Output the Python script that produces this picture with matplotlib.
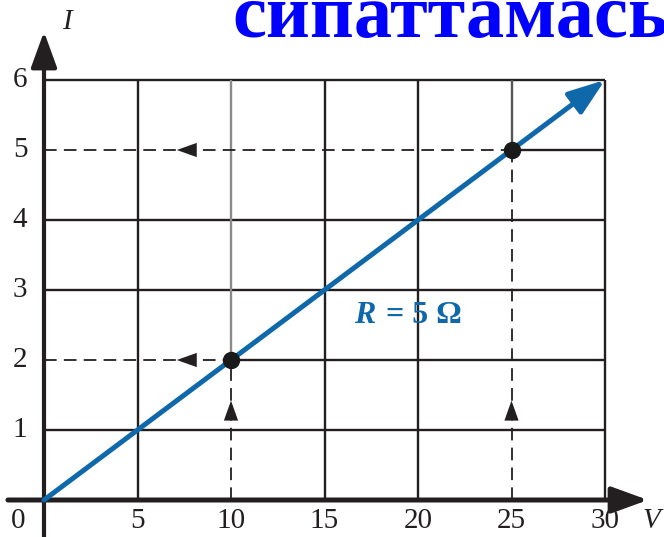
import matplotlib.pyplot as plt

# данные графика
voltage = [0, 30]
current = [0, 6]
point_v = [10, 25]
point_i = [2, 5]
x_ticks = [5, 10, 15, 20, 25, 30]
y_ticks = [1, 2, 3, 4, 5, 6]
title_text = "сипаттамасы"
label_r = "R"
label_value = " = 5 Ω"

DARK = "#231f20"
BLUE = "#0f68aa"
GRAY = "#8a8a8a"

fig = plt.figure(figsize=(6.64, 5.37), dpi=100)
ax = fig.add_axes([0, 0, 1, 1])
ax.set_xlim(-44 / 18.7, 620 / 18.7)
ax.set_ylim(-37 / 70, 500 / 70)
ax.axis("off")

grid_kw = dict(color=DARK, lw=1.7, solid_capstyle="butt", zorder=1)
# горизонтальные линии сетки
for y in y_ticks:
    x_start = 0
    for pv, pi in zip(point_v, point_i):
        if pi == y:
            x_start = pv
    ax.plot([x_start, x_ticks[-1]], [y, y], **grid_kw)
# вертикальные линии сетки
for x in x_ticks:
    y_start = 0
    color = DARK
    for pv, pi in zip(point_v, point_i):
        if pv == x:
            y_start = pi
            color = GRAY if pv == 10 else "#555555"
    ax.plot([x, x], [y_start, y_ticks[-1]], **dict(grid_kw, color=color))

# пунктирные линии к точкам
dash_kw = dict(color=DARK, lw=1.3, dashes=(7, 4), zorder=2)
for pv, pi in zip(point_v, point_i):
    ax.plot([0, pv], [pi, pi], **dash_kw)
    ax.plot([pv, pv], [0, pi], **dash_kw)
    head = dict(arrowstyle="-|>,head_length=0.9,head_width=0.32", color=DARK,
                lw=0, shrinkA=0, shrinkB=0, mutation_scale=16)
    ax.annotate("", xy=(7.1, pi), xytext=(7.9, pi), arrowprops=head, zorder=3)
    ax.annotate("", xy=(pv, 1.42), xytext=(pv, 1.2), arrowprops=head, zorder=3)

# оси
ax.annotate("", xy=(32.3, 0), xytext=(-1.93, 0),
            arrowprops=dict(arrowstyle="-|>,head_length=1.1,head_width=0.4",
                            color=DARK, lw=3.6, shrinkA=0, shrinkB=0,
                            mutation_scale=20), zorder=4)
ax.annotate("", xy=(0, 6.69), xytext=(0, -0.6),
            arrowprops=dict(arrowstyle="-|>,head_length=1.1,head_width=0.4",
                            color=DARK, lw=3.0, shrinkA=0, shrinkB=0,
                            mutation_scale=20), zorder=4)

# линия R = 5 Ом
ax.annotate("", xy=(voltage[1], current[1]), xytext=(voltage[0], current[0]),
            arrowprops=dict(arrowstyle="-|>,head_length=1.4,head_width=0.5",
                            color=BLUE, lw=3.6, shrinkA=0, shrinkB=0,
                            mutation_scale=16), zorder=5)
ax.plot(point_v, point_i, "o", color="#1a1a1a", ms=11.5, zorder=6)

serif = ["Liberation Serif", "DejaVu Serif"]
for x in x_ticks:
    ax.text(x, -0.3, str(x), ha="center", va="center", fontsize=21,
            family=serif, color=DARK)
for y in y_ticks:
    ax.text(-1.28, y, str(y), ha="center", va="center", fontsize=21,
            family=serif, color=DARK)
ax.text(-1.39, -0.3, "0", ha="center", va="center", fontsize=21,
        family=serif, color=DARK)
ax.text(32.5, -0.3, "V", ha="center", va="center", fontsize=21,
        family=serif, style="italic", color=DARK)
ax.text(1.23, 6.83, "I", ha="center", va="center", fontsize=21,
        family=serif, style="italic", color=DARK)

ax.text(16.6, 2.53, label_r, ha="left", va="baseline", fontsize=23,
        family=serif, style="italic", weight="bold", color=BLUE)
ax.text(17.85, 2.53, label_value, ha="left", va="baseline", fontsize=23,
        family=serif, weight="bold", color=BLUE)

fig.text(232 / 664, 1 - 37 / 537, title_text, ha="left", va="baseline",
         fontsize=55, family=serif, weight="bold", color="#0000ff")

fig.savefig("out.png", dpi=100)
